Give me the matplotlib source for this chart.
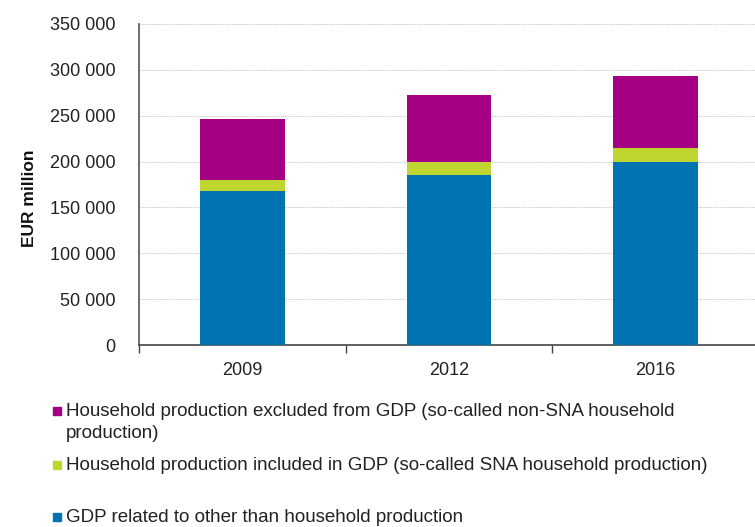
import matplotlib

matplotlib.use("Agg")
import matplotlib.pyplot as plt
from matplotlib.patches import Rectangle
from matplotlib.ticker import FuncFormatter, FixedLocator, NullFormatter

plt.rcParams["font.family"] = ["Liberation Sans", "DejaVu Sans"]

years = ["2009", "2012", "2016"]
gdp_other = [167700, 185100, 199200]
sna_household = [12400, 14100, 15700]
non_sna_household = [66300, 73300, 78600]

series_labels = [
    ["Household production excluded from GDP (so-called non-SNA household", "production)"],
    ["Household production included in GDP (so-called SNA household production)"],
    ["GDP related to other than household production"],
]
colors = ["#A50084", "#BED62F", "#0073B0"]

fig = plt.figure(figsize=(7.55, 5.27), dpi=100)
ax = fig.add_axes([139 / 755, 1 - 345 / 527, 620 / 755, 321 / 527])

x = range(len(years))
width = 0.41
ax.bar(x, gdp_other, width, color=colors[2], zorder=3)
ax.bar(x, sna_household, width, bottom=gdp_other, color=colors[1], zorder=3)
bottom3 = [a + b for a, b in zip(gdp_other, sna_household)]
ax.bar(x, non_sna_household, width, bottom=bottom3, color=colors[0], zorder=3)

ax.set_xlim(-0.5, len(years) - 0.5)
ax.set_ylim(0, 350000)
ax.set_yticks(range(0, 350001, 50000))
ax.yaxis.set_major_formatter(FuncFormatter(lambda v, p: f"{int(v):,}".replace(",", " ")))
ax.tick_params(axis="y", length=0, pad=17, labelsize=13, colors="#222222")

ax.set_xticks(list(x))
ax.set_xticklabels(years)
ax.tick_params(axis="x", which="major", length=0, pad=12, labelsize=13, colors="#222222")
ax.xaxis.set_minor_locator(FixedLocator([-0.5, 0.5, 1.5, 2.5]))
ax.xaxis.set_minor_formatter(NullFormatter())
ax.tick_params(axis="x", which="minor", length=6, width=1, color="#444444", direction="out")

ax.grid(axis="y", color="#CCCCCC", linestyle=(0, (1.5, 1)), linewidth=0.7, zorder=0)
for side in ("top", "right"):
    ax.spines[side].set_visible(False)
ax.spines["left"].set_color("#555555")
ax.spines["bottom"].set_color("#444444")
ax.spines["left"].set_linewidth(1.2)
ax.spines["bottom"].set_linewidth(1.2)

fig.text(30 / 755, 1 - 198 / 527, "EUR million", rotation=90, ha="center", va="center",
         fontsize=12.5, fontweight="bold", color="#111111")

legend_rows = [410, 464, 516]
for lines, color, yrow in zip(series_labels, colors, legend_rows):
    fig.patches.append(Rectangle((53 / 755, 1 - (yrow + 5) / 527), 8 / 755, 8 / 527,
                                 transform=fig.transFigure, color=color))
    for i, line in enumerate(lines):
        fig.text(66 / 755, 1 - (yrow + 6 + 22 * i) / 527, line, ha="left", va="baseline",
                 fontsize=13.5, color="#222222")

fig.savefig("out.png", dpi=100)
